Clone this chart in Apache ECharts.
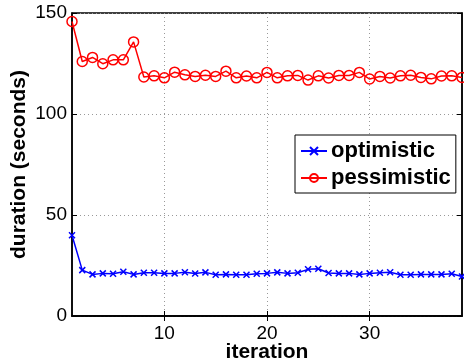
<!DOCTYPE html>
<html>
<head>
<meta charset="utf-8">
<script src="https://cdn.jsdelivr.net/npm/echarts@6/dist/echarts.min.js"></script>
<style>
  html, body { margin: 0; padding: 0; background: #fff; }
  #main { width: 464px; height: 364px; }
</style>
</head>
<body>
<div id="main"></div>
<script>
// iterations 1..39
var iterations = [];
for (var i = 1; i <= 39; i++) iterations.push(i);

var optimistic = [40.0, 22.7, 20.6, 21.1, 20.9, 21.9, 20.6, 21.4, 21.4, 21.1,
    21.1, 21.7, 21.0, 21.6, 20.4, 20.6, 20.4, 20.4, 20.9, 21.1,
    21.6, 21.1, 21.4, 23.1, 23.4, 21.3, 21.1, 21.1, 20.6, 21.1,
    21.4, 21.7, 20.4, 20.4, 20.6, 20.6, 20.6, 20.9, 19.6];

var pessimistic = [145.8, 126.0, 128.0, 124.9, 126.8, 126.8, 135.7, 118.3, 118.9, 117.9,
    120.7, 119.4, 118.6, 119.2, 118.6, 121.2, 117.9, 118.8, 117.9, 120.6,
    117.9, 118.9, 119.1, 116.8, 118.9, 117.8, 119.1, 119.1, 120.6, 117.3,
    118.6, 117.8, 118.9, 119.2, 118.1, 117.4, 118.8, 118.9, 118.1];

var xTicks = [10, 20, 30];

var font = '"Liberation Sans", Arial, sans-serif';
var crossPath = 'path://M0,0L10,10M10,0L0,10';

function pairs(vals) {
    return iterations.map(function (x, k) { return [x, vals[k]]; });
}

var myChart = echarts.init(document.getElementById('main'));

var dotted = { show: true, lineStyle: { color: '#999', width: 1, type: [1, 3] } };

myChart.setOption({
    animation: false,
    textStyle: { fontFamily: font },
    grid: {
        left: 72, right: 2, top: 13, bottom: 48,
        outerBoundsMode: 'none',
        containLabel: false,
        show: true, borderColor: '#000', borderWidth: 1.5
    },
    legend: {
        orient: 'vertical',
        left: 295, top: 135,
        padding: [4, 5, 3, 5],
        itemGap: 3,
        itemWidth: 26, itemHeight: 10,
        backgroundColor: '#fff',
        borderColor: '#000', borderWidth: 1,
        textStyle: { fontFamily: font, fontSize: 22, fontWeight: 'bold', color: '#000', lineHeight: 24, padding: [0, 0, 0, -1] },
        data: ['optimistic', 'pessimistic']
    },
    xAxis: [{
        type: 'value',
        min: 1, max: 39,
        name: 'iteration',
        nameLocation: 'middle',
        nameGap: 26,
        nameMoveOverlap: false,
        nameTextStyle: { fontSize: 21, fontWeight: 'bold', color: '#000' },
        axisLine: { show: true, lineStyle: { color: '#000', width: 1.5 } },
        axisTick: { show: true, inside: true, length: 5, customValues: xTicks, lineStyle: { color: '#000' } },
        axisLabel: { customValues: xTicks, fontSize: 19, color: '#000', margin: 8 },
        splitLine: dotted
    }, {
        type: 'value',
        position: 'top',
        min: 1, max: 39,
        axisLine: { show: true, lineStyle: { color: '#000', width: 1.5 } },
        axisTick: { show: true, inside: true, length: 5, customValues: xTicks, lineStyle: { color: '#000' } },
        axisLabel: { show: false },
        splitLine: { show: false }
    }],
    yAxis: [{
        type: 'value',
        min: 0, max: 150, interval: 50,
        name: 'duration (seconds)',
        nameLocation: 'middle',
        nameGap: 42,
        nameMoveOverlap: false,
        nameTextStyle: { fontSize: 21, fontWeight: 'bold', color: '#000' },
        axisLine: { show: true, lineStyle: { color: '#000', width: 1.5 } },
        axisTick: { show: true, inside: true, length: 5, lineStyle: { color: '#000' } },
        axisLabel: { fontSize: 19, color: '#000', margin: 5 },
        splitLine: dotted
    }, {
        type: 'value',
        position: 'right',
        min: 0, max: 150, interval: 50,
        axisLine: { show: true, lineStyle: { color: '#000', width: 1.5 } },
        axisTick: { show: true, inside: true, length: 5, lineStyle: { color: '#000' } },
        axisLabel: { show: false },
        splitLine: { show: false }
    }],
    series: [{
        name: 'optimistic',
        type: 'line',
        data: pairs(optimistic),
        symbol: crossPath,
        symbolSize: 6,
        color: '#0000ff',
        lineStyle: { color: '#0000ff', width: 1.5 },
        itemStyle: { color: '#0000ff', borderColor: '#0000ff', borderWidth: 1.5 }
    }, {
        name: 'pessimistic',
        type: 'line',
        data: pairs(pessimistic),
        symbol: 'circle',
        symbolSize: 10,
        color: '#ff0000',
        lineStyle: { color: '#ff0000', width: 1.5 },
        itemStyle: { color: 'rgba(255,255,255,0)', borderColor: '#ff0000', borderWidth: 1.5 }
    }]
});
</script>
</body>
</html>
